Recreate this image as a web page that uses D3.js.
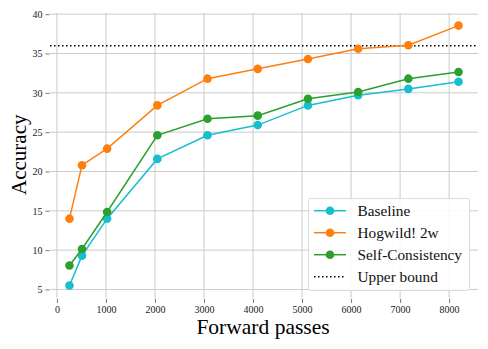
<!DOCTYPE html>
<html><head><meta charset="utf-8">
<script src="https://cdn.jsdelivr.net/npm/d3@7"></script>
<style>body{margin:0;background:#fff}svg{display:block}svg text{font-family:"Liberation Serif","Times New Roman","DejaVu Serif",serif !important}</style>
</head><body><svg id="c" width="488" height="349"></svg>
<script>
const passes = [256, 512, 1024, 2048, 3072, 4096, 5120, 6144, 7168, 8192];
const baseline = [5.5, 9.3, 14.0, 21.6, 24.6, 25.9, 28.4, 29.7, 30.5, 31.4];
const hogwild = [14.0, 20.8, 22.9, 28.4, 31.8, 33.05, 34.3, 35.6, 36.05, 38.55];
const selfCons = [8.05, 10.15, 14.85, 24.6, 26.7, 27.1, 29.25, 30.1, 31.8, 32.65];
const upperBound = 36;
const xTicks = [0,1000,2000,3000,4000,5000,6000,7000,8000];
const yTicks = [5,10,15,20,25,30,35,40];
const seriesNames = ["Baseline","Hogwild! 2w","Self-Consistency","Upper bound"];
const colors = ["#17becf","#ff7f0e","#2ca02c","#000"];
const FONT = "Liberation Serif, Times New Roman, serif";

const svg = d3.select("#c");
const L=50,R=478,T=13,B=298.5;
const x = d3.scaleLinear().domain([-141, 8589]).range([L,R]);
const y = d3.scaleLinear().domain([3.85, 40.15]).range([B,T]);

// grid
svg.append("g").selectAll("line").data(xTicks).join("line")
  .attr("x1",d=>x(d)).attr("x2",d=>x(d)).attr("y1",T).attr("y2",B)
  .attr("stroke","#cbcbcb").attr("stroke-width",1);
svg.append("g").selectAll("line").data(yTicks).join("line")
  .attr("y1",d=>y(d)).attr("y2",d=>y(d)).attr("x1",L).attr("x2",R)
  .attr("stroke","#cbcbcb").attr("stroke-width",1);

// axes (offset, no spine)
const xa = svg.append("g").attr("transform",`translate(0,${B+0.5})`)
  .call(d3.axisBottom(x).tickValues(xTicks).tickSize(4).tickPadding(3).tickFormat(d3.format("d")));
const ya = svg.append("g").attr("transform",`translate(${L-0.5},0)`)
  .call(d3.axisLeft(y).tickValues(yTicks).tickSize(4).tickPadding(3));
[xa,ya].forEach(a=>{a.select(".domain").remove();
  a.attr("font-family",FONT).attr("font-size",10);
  a.selectAll(".tick line").attr("stroke","#555").attr("stroke-width",0.8);
  a.selectAll(".tick text").attr("fill","#222");});

// upper bound
svg.append("line").attr("x1",L).attr("x2",R).attr("y1",y(upperBound)).attr("y2",y(upperBound))
  .attr("stroke","#000").attr("stroke-width",1.5).attr("stroke-dasharray","1.5,2.5");

const data = [baseline, hogwild, selfCons];
const line = d3.line().x((d,i)=>x(passes[i])).y(d=>y(d));
data.forEach((s,k)=>{
  svg.append("path").datum(s).attr("d",line).attr("fill","none")
    .attr("stroke",colors[k]).attr("stroke-width",1.5);
  svg.append("g").selectAll("circle").data(s).join("circle")
    .attr("cx",(d,i)=>x(passes[i])).attr("cy",d=>y(d)).attr("r",4.3).attr("fill",colors[k]);
});

// labels
svg.append("text").attr("x",(L+R)/2-1).attr("y",334).attr("text-anchor","middle")
  .attr("font-family",FONT).attr("font-size",21.5).text("Forward passes");
svg.append("text").attr("transform",`translate(26,${(T+B)/2-1}) rotate(-90)`).attr("text-anchor","middle")
  .attr("font-family",FONT).attr("font-size",21).text("Accuracy");

// legend
const lg = svg.append("g").attr("font-family",FONT);
lg.append("rect").attr("x",308.5).attr("y",198.5).attr("width",161).attr("height",92).attr("rx",2)
  .attr("fill","#fff").attr("fill-opacity",0.85).attr("stroke","#dcdcdc");
seriesNames.forEach((n,i)=>{
  const yy = 210.7 + i*22;
  lg.append("line").attr("x1",314).attr("x2",346).attr("y1",yy).attr("y2",yy)
    .attr("stroke",colors[i]).attr("stroke-width",1.5)
    .attr("stroke-dasharray", i===3?"1.5,2.5":null);
  if(i<3) lg.append("circle").attr("cx",330).attr("cy",yy).attr("r",4.3).attr("fill",colors[i]);
  lg.append("text").attr("x",357.5).attr("y",yy+5).attr("font-size",15.3).attr("fill","#111").text(n);
});
</script></body></html>
